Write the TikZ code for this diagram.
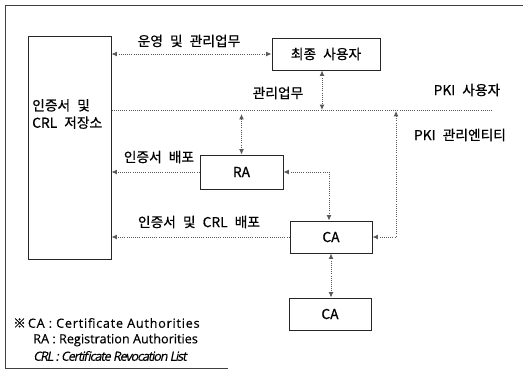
\documentclass[tikz,border=0pt]{standalone}
\usepackage{fontspec}
\setmainfont{Noto Sans CJK KR}[WordSpace=2.3, FakeBold=0.7]
\newfontfamily\latinfont{Open Sans}[FakeBold=0.4]
\newfontfamily\latinwide{Open Sans}[LetterSpace=6, FakeBold=0.4]
\newfontfamily\latinslant{Open Sans}[LetterSpace=-9, FakeSlant=0.2, FakeBold=0.4]
\usetikzlibrary{arrows.meta}
\begin{document}
\begin{tikzpicture}[x=0.75pt,y=-0.75pt,
  box/.style={draw=black!85, line width=0.75pt, rectangle, inner sep=0pt, font=\fontsize{10.3}{12}\selectfont},
  conn/.style={draw=black!65, densely dotted, line width=0.6pt},
  tipb/.style={{Latex[length=4pt,width=3.6pt]}-{Latex[length=4pt,width=3.6pt]}},
  tipe/.style={-{Latex[length=4pt,width=3.6pt]}},
  lbl/.style={inner sep=0pt, font=\fontsize{10.3}{12}\selectfont},
  leg/.style={inner sep=0pt, anchor=west, font=\latinfont\fontsize{9.5}{11}\selectfont},
  frame/.style={draw=black!75, line width=0.6pt}]
\useasboundingbox (0,0) rectangle (523,372);
\draw[frame] (523,5) -- (5,5) -- (5,368) -- (228,368);

\node[box, minimum width=62.25pt, minimum height=167.25pt] (store) at (69.5,147.5) {};
\node[lbl, anchor=west, align=left, font=\fontsize{10.3}{13}\selectfont] (storetxt) at (32,114) {인증서 및\\CRL 저장소};
\node[box, minimum width=81pt, minimum height=24pt] (user) at (326,54) {최종 사용자};
\node[box, minimum width=62.25pt, minimum height=25.5pt] (ra) at (241.5,172) {RA};
\node[box, minimum width=61.5pt, minimum height=24pt] (ca1) at (331,237) {CA};
\node[box, minimum width=61.5pt, minimum height=24pt] (ca2) at (330,314) {CA};

\coordinate (lineR) at (492,110);
\coordinate (vR) at (396,111);

\draw[conn, tipb] (user.west -| store.east) -- (user.west);
\draw[conn] (store.east |- lineR) -- (lineR);
\draw[conn, tipb] ([xshift=-3pt]user.south) -- ([xshift=-3pt]user.south |- lineR);
\draw[conn, tipb] ([yshift=-3pt]ra.north |- lineR) -- (ra.north);
\draw[conn, tipe] (ra.west) -- (ra.west -| store.east);
\draw[conn, tipb] (ra.east) -| ([xshift=-1.5pt]ca1.north);
\draw[conn, tipe] (ca1.west) -- (ca1.west -| store.east);
\draw[conn, tipb] (ca1.east) -| (vR);
\draw[conn, tipb] (ca1.south) -- (ca1.south |- ca2.north);

\node[lbl] (l1) at (189,41) {운영 및 관리업무};
\node[lbl] (l2) at (278,93) {관리업무};
\node[lbl] (l3) at (159,157) {인증서 배포};
\node[lbl] (l4) at (199,222) {인증서 및 CRL 배포};
\node[lbl] (l5) at (467,90) {PKI 사용자};
\node[lbl] (l6) at (460,135) {PKI 관리엔티티};

\node[leg, font=\latinwide\fontsize{9.5}{11}\selectfont] (g1) at (13,323) {{\rmfamily ※}\hspace{1.5pt}CA : Certificate Authorities};
\node[leg] (g2) at (33,340) {RA : Registration Authorities};
\node[leg, font=\latinslant\fontsize{9.5}{11}\selectfont] (g3) at (33,356) {CRL : Certificate Revocation List};
\end{tikzpicture}
\end{document}
